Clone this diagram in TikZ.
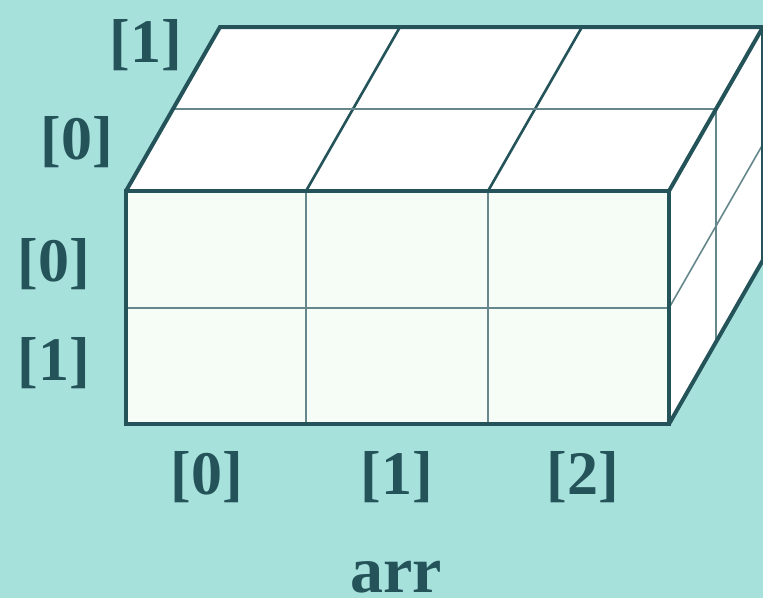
\documentclass[tikz,border=0pt]{standalone}
\usepackage{fontspec}
\setmainfont{Liberation Serif}
\definecolor{ArrBg}{HTML}{A7E1DC}
\definecolor{ArrLine}{HTML}{24545A}
\definecolor{ArrFront}{HTML}{F6FCF6}
\begin{document}
\begin{tikzpicture}[x=1pt,y=-1pt,
  outer/.style={draw=ArrLine,line width=4pt,line join=miter},
  inner/.style={draw=ArrLine!70,line width=1.6pt},
  ridge/.style={draw=ArrLine,line width=2.6pt},
  idx/.style={text=ArrLine,font=\fontsize{62}{62}\selectfont\bfseries,inner sep=0pt}]
  \fill[ArrBg] (0,0) rectangle (763,598);
  \useasboundingbox (0,0) rectangle (763,598);
  \clip (0,0) rectangle (763,598);
  % box corners
  \coordinate (ftl) at (126,191);
  \coordinate (ftr) at (669,191);
  \coordinate (fbl) at (126,424);
  \coordinate (fbr) at (669,424);
  \coordinate (btl) at (220,27);
  \coordinate (btr) at (763,27);
  \coordinate (bbr) at (763,260);
  % faces
  \fill[ArrFront] (ftl) rectangle (fbr);
  \fill[white] (ftl) -- (btl) -- (btr) -- (ftr) -- cycle;
  \fill[white] (ftr) -- (btr) -- (bbr) -- (fbr) -- cycle;
  % cell lines
  \draw[inner] (126,308) -- (669,308);
  \foreach \x in {306,488} {
    \draw[inner] (\x,191) -- (\x,424);
    \draw[ridge] (\x,191) -- ++(94,-164);
  }
  \draw[inner] (173,109) -- (716,109);
  \draw[inner] (716,109) -- (716,342);
  \draw[inner] (669,308) -- ++(94,-164);
  % outline
  \draw[outer] (ftl) rectangle (fbr);
  \draw[outer] (ftl) -- (btl) -- (btr);
  \draw[outer] (ftr) -- (btr);
  \draw[outer] (fbr) -- (bbr) -- (btr);
  % indices
  \node[idx] (d1) at (146,45) {[1]};
  \node[idx] (d0) at (77,142) {[0]};
  \node[idx] (r0) at (54,264) {[0]};
  \node[idx] (r1) at (54,363) {[1]};
  \node[idx] (c0) at (207,477) {[0]};
  \node[idx] (c1) at (397,477) {[1]};
  \node[idx] (c2) at (583,477) {[2]};
  \node[idx,font=\fontsize{66}{66}\selectfont\bfseries,anchor=base] (arr)
    at (396,592) {arr};
\end{tikzpicture}
\end{document}
